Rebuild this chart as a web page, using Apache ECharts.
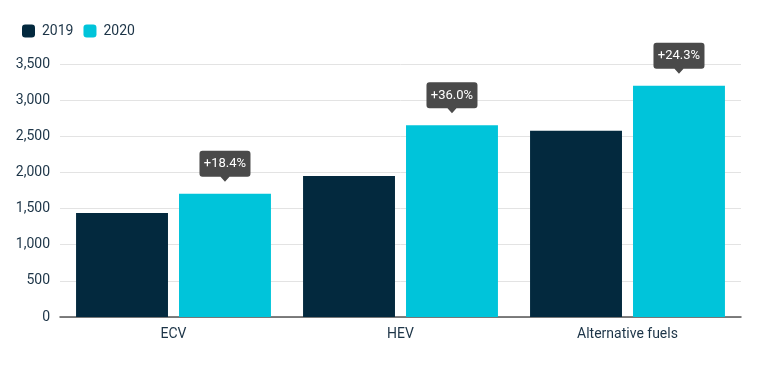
<!DOCTYPE html>
<html>
<head>
<meta charset="utf-8">
<script src="https://cdn.jsdelivr.net/npm/echarts@6/dist/echarts.min.js"></script>
<style>html,body{margin:0;padding:0;background:#fff}#c{width:761px;height:386px}</style>
</head>
<body>
<div id="c"></div>
<script>
const categories = ['ECV', 'HEV', 'Alternative fuels'];
const seriesNames = ['2019', '2020'];
const values2019 = [1440, 1950, 2575];
const values2020 = [1705, 2652, 3200];
const changeLabels = ['+18.4%', '+36.0%', '+24.3%'];
const yTicks = { min: 0, max: 3500, interval: 500 };

const FONT = 'Roboto';
const TEXT = '#1c3447';
const calloutPath = 'path://M3,0 L48,0 Q51,0 51,3 L51,23 Q51,26 48,26 L30,26 L25.5,31 L21,26 L3,26 Q0,26 0,23 L0,3 Q0,0 3,0 Z';

const chart = echarts.init(document.getElementById('c'), null, { renderer: 'canvas' });
chart.setOption({
  animation: false,
  textStyle: { fontFamily: FONT },
  legend: {
    left: 17, top: 19,
    itemWidth: 13, itemHeight: 13, itemGap: 10,
    icon: 'roundRect',
    textStyle: { color: TEXT, fontSize: 14, fontFamily: FONT, padding: [0, 0, 0, 2] },
    data: seriesNames
  },
  grid: { left: 60, right: 20, top: 64, bottom: 69 },
  xAxis: {
    type: 'category',
    data: categories,
    axisLine: { lineStyle: { color: '#555', width: 1.5 } },
    axisTick: { show: false },
    axisLabel: { color: TEXT, fontSize: 14, fontFamily: FONT, margin: 10 }
  },
  yAxis: {
    type: 'value',
    min: yTicks.min, max: yTicks.max, interval: yTicks.interval,
    axisLine: { show: false },
    axisTick: { show: false },
    splitLine: { lineStyle: { color: '#e3e3e3', width: 1 } },
    axisLabel: {
      color: TEXT, fontSize: 14, fontFamily: FONT, margin: 10,
      formatter: v => v.toLocaleString('en-US')
    }
  },
  series: [
    {
      name: seriesNames[0], type: 'bar', data: values2019,
      barWidth: '40.5%', barGap: '12%',
      itemStyle: { color: '#03293e' }
    },
    {
      name: seriesNames[1], type: 'bar', data: values2020,
      barWidth: '40.5%', barGap: '12%',
      itemStyle: { color: '#00c4da' },
      markPoint: {
        symbol: calloutPath,
        symbolSize: [51, 31],
        symbolOffset: [0, -27.5],
        itemStyle: { color: '#4a4a4a' },
        label: {
          show: true, color: '#fff', fontSize: 13, fontFamily: FONT,
          offset: [0, -2.5],
          formatter: p => p.name
        },
        data: categories.map((c, i) => ({ name: changeLabels[i], coord: [i, values2020[i]] }))
      }
    }
  ]
});
</script>
</body>
</html>
